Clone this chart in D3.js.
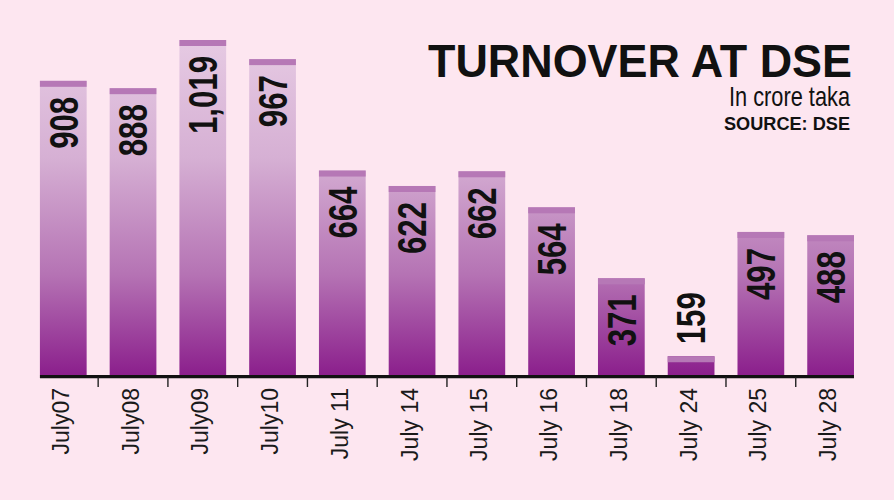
<!DOCTYPE html>
<html><head><meta charset="utf-8">
<script src="https://cdn.jsdelivr.net/npm/d3@7"></script>
<style>html,body{margin:0;padding:0;background:#fde6f0;} svg{display:block}</style>
</head><body><svg id="c" width="894" height="500"></svg>
<script>
const categories = ["July07","July08","July09","July10","July 11","July 14","July 15","July 16","July 18","July 24","July 25","July 28"];
const values = [908,888,1019,967,664,622,662,564,371,159,497,488];
const valueLabels = ["908","888","1,019","967","664","622","662","564","371","159","497","488"];
const titleText = "TURNOVER AT DSE";
const subtitleText = "In crore taka";
const sourceText = "SOURCE: DSE";

const W = 894, H = 500, base = 375;
const svg = d3.select("#c");
svg.append("rect").attr("width", W).attr("height", H).attr("fill", "#fde6f0");

const x = d3.scaleBand().domain(categories).range([28.4, 865.5]).paddingInner(0.33).paddingOuter(0.165);
const y = d3.scaleLinear().domain([108, 1019]).range([base, 40]);

const defs = svg.append("defs");
const g = defs.append("linearGradient").attr("id", "bg").attr("gradientUnits", "userSpaceOnUse")
  .attr("x1", 0).attr("x2", 0).attr("y1", 40).attr("y2", base);
[[0, "#e6cae3"], [0.35, "#d6b0d4"], [0.7, "#b573b4"], [1, "#8b1f8c"]].forEach(s =>
  g.append("stop").attr("offset", s[0]).attr("stop-color", s[1]));

const data = categories.map((c, i) => ({c, v: values[i], l: valueLabels[i]}));
const bw = x.bandwidth();

svg.append("g").selectAll("rect").data(data).join("rect")
  .attr("x", d => x(d.c)).attr("y", d => y(d.v)).attr("width", bw)
  .attr("height", d => base - y(d.v)).attr("fill", "url(#bg)");
svg.append("g").selectAll("rect").data(data).join("rect")
  .attr("x", d => x(d.c)).attr("y", d => y(d.v)).attr("width", bw)
  .attr("height", 6).attr("fill", "#b678b6");

// value labels
svg.append("g").selectAll("text").data(data).join("text")
  .attr("font-family", "'Liberation Sans', Arial, sans-serif").attr("font-weight", "bold")
  .attr("font-size", 40).attr("fill", "#111")
  .attr("text-anchor", d => (base - y(d.v)) > 70 ? "end" : "start")
  .attr("transform", d => {
    const cx = x(d.c) + bw / 2 + 14.3;
    const inside = (base - y(d.v)) > 70;
    const ty = inside ? y(d.v) + 16 : y(d.v) - 12;
    return `translate(${cx},${ty}) rotate(-90) scale(0.78,1)`;
  })
  .text(d => d.l);

// axis line
svg.append("line").attr("x1", x(categories[0])).attr("x2", x(categories[categories.length - 1]) + bw)
  .attr("y1", 376.7).attr("y2", 376.7).attr("stroke", "#111").attr("stroke-width", 3.2);
// ticks between categories
const step = x.step();
const tickPos = categories.slice(1).map(c => x(c) - (step - bw) / 2);
svg.append("g").selectAll("line").data(tickPos).join("line")
  .attr("x1", d => d).attr("x2", d => d).attr("y1", 377).attr("y2", 387)
  .attr("stroke", "#222").attr("stroke-width", 1.4);

// category labels
svg.append("g").selectAll("text").data(categories).join("text")
  .attr("font-family", "'Liberation Sans', Arial, sans-serif")
  .attr("font-size", 23).attr("fill", "#1a1a1a").attr("text-anchor", "end")
  .attr("transform", c => `translate(${x(c) + bw / 2 + 5.5},388) rotate(-90)`)
  .text(c => c);

// titles
svg.append("text").attr("x", 428).attr("y", 77).attr("font-family", "'Liberation Sans', Arial, sans-serif")
  .attr("font-weight", "bold").attr("font-size", 47).attr("fill", "#111")
  .attr("textLength", 424).attr("lengthAdjust", "spacingAndGlyphs").text(titleText);
svg.append("text").attr("x", 729).attr("y", 105.5).attr("font-family", "'Liberation Sans', Arial, sans-serif")
  .attr("font-size", 28).attr("fill", "#111")
  .attr("textLength", 121).attr("lengthAdjust", "spacingAndGlyphs").text(subtitleText);
svg.append("text").attr("x", 724).attr("y", 129.5).attr("font-family", "'Liberation Sans', Arial, sans-serif")
  .attr("font-weight", "bold").attr("font-size", 18).attr("fill", "#111")
  .attr("textLength", 126).attr("lengthAdjust", "spacingAndGlyphs").text(sourceText);
</script></body></html>
